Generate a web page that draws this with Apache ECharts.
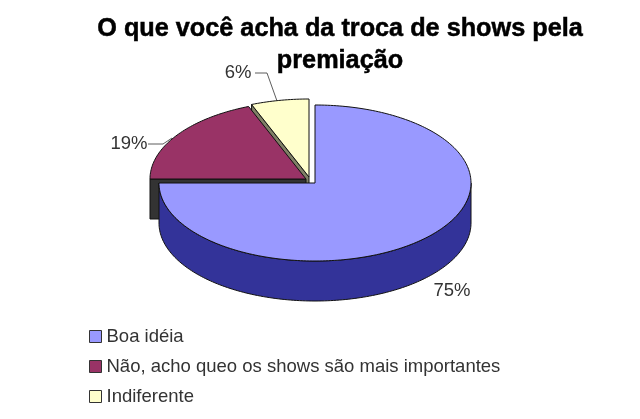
<!DOCTYPE html>
<html><head><meta charset="utf-8">
<style>html,body{margin:0;padding:0;background:#fff}#c{width:640px;height:419px}</style>
<script src="https://cdn.jsdelivr.net/npm/echarts@6/dist/echarts.min.js"></script>
</head><body><div id="c"></div>
<script>
const titleText = 'O que você acha da troca de shows pela\npremiação';
const categories = ['Boa idéia', 'Não, acho queo os shows são mais importantes', 'Indiferente'];
const values = [75, 19, 6];
const topColors = ['#9999ff', '#993366', '#ffffcc'];
const sideColors = ['#333399', '#333333', '#808066'];

const RX = 156, RY = 78, DEPTH = 40;
const centers = [[315, 183], [306, 179], [309, 177]];
const labelPos = [[452, 291], [129, 144], [238, 73]];
const leaders = [null, [[148, 144], [163, 144], [172, 138]], [[255, 73], [267, 73], [277, 101]]];
const LINE = '#111';

const total = values.reduce((a, b) => a + b, 0);
const startAngle = i => values.slice(0, i).reduce((a, b) => a + b, 0) / total * 2 * Math.PI;
const rim = (c, t, d = 0) => [c[0] + RX * Math.sin(t), c[1] - RY * Math.cos(t) + d];
function arc(c, a, b, d = 0) {
  const n = Math.max(2, Math.ceil((b - a) / 0.02)), p = [];
  for (let k = 0; k <= n; k++) p.push(rim(c, a + (b - a) * k / n, d));
  return p;
}
const poly = (points, fill, lw = 1) => ({
  type: 'polygon', shape: { points }, style: { fill, stroke: LINE, lineWidth: lw }
});
function renderSlice(i) {
  const c = centers[i], a = startAngle(i), b = startAngle(i + 1), kids = [];
  // faces of the cut that show below the slice
  if (i === 0) {
    const lo = Math.PI / 2, hi = b;
    kids.push(poly(arc(c, lo, hi).concat(arc(c, lo, hi, DEPTH).reverse()), sideColors[0]));
  } else {
    const e = rim(c, a);
    kids.push(poly([c, e, [e[0], e[1] + DEPTH], [c[0], c[1] + DEPTH]], sideColors[i]));
  }
  kids.push(poly([c].concat(arc(c, a, b)), topColors[i]));
  if (leaders[i]) kids.push({
    type: 'polyline', shape: { points: leaders[i] }, style: { fill: null, stroke: '#333', lineWidth: 0.8 }
  });
  kids.push({
    type: 'text', x: labelPos[i][0], y: labelPos[i][1],
    style: {
      text: Math.round(values[i] / total * 100) + '%', align: 'center', verticalAlign: 'middle',
      fill: '#333', font: '18.5px "Liberation Sans", Arial, sans-serif'
    }
  });
  return { type: 'group', children: kids };
}
const chart = echarts.init(document.getElementById('c'), null, { renderer: 'canvas' });
const order = [2, 1, 0];
chart.setOption({
  animation: false,
  backgroundColor: '#fff',
  title: {
    text: titleText, left: 335, top: 8, textAlign: 'center',
    textStyle: {
      fontFamily: '"Liberation Sans", Arial, sans-serif', fontWeight: 'bold', fontSize: 25.25,
      lineHeight: 32, color: '#000', textBorderColor: '#000', textBorderWidth: 0.5
    }
  },
  legend: {
    orient: 'vertical', left: 89, top: 327, itemWidth: 12, itemHeight: 12, itemGap: 11,
    padding: 0, icon: 'rect', data: categories, selectedMode: false,
    itemStyle: { borderColor: '#333', borderWidth: 1 },
    textStyle: { fontFamily: '"Liberation Sans", Arial, sans-serif', fontSize: 18.5, color: '#333' }
  },
  series: order.map(i => ({
    type: 'custom', name: categories[i], coordinateSystem: 'none',
    itemStyle: { color: topColors[i] }, silent: true,
    data: [values[i]],
    renderItem: () => renderSlice(i)
  }))
});
</script></body></html>
